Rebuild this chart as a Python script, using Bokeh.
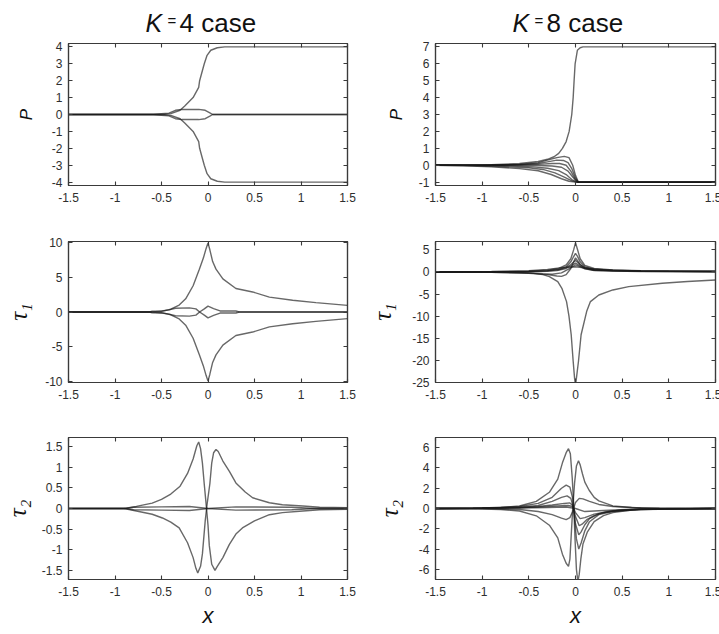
from bokeh.plotting import figure
from bokeh.layouts import gridplot
from bokeh.models import Range1d, FixedTicker, LinearAxis
from bokeh.core.properties import value
from bokeh.embed import file_html
from bokeh.resources import INLINE

# ---------------------------------------------------------------- data
x_ticks = [-1.5, -1, -0.5, 0, 0.5, 1, 1.5]
x_tick_labels = ["-1.5", "-1", "-0.5", "0", "0.5", "1", "1.5"]

# K = 4 : P
k4_P_curves = [
    ([-1.5, -0.49, -0.4, -0.3, -0.25, -0.16, -0.1, -0.09, -0.06, -0.04, -0.01, 0.03, 0.1, 0.18, 1.5],
     [0, 0, 0.05, 0.25, 0.5, 1.0, 1.6, 2.0, 2.6, 3.0, 3.5, 3.8, 3.95, 4.0, 4.0]),
    ([-1.5, -0.49, -0.4, -0.3, -0.25, -0.16, -0.1, -0.09, -0.06, -0.04, -0.01, 0.03, 0.1, 0.18, 1.5],
     [0, 0, -0.05, -0.25, -0.5, -1.0, -1.6, -2.0, -2.6, -3.0, -3.5, -3.8, -3.95, -4.0, -4.0]),
    ([-1.5, -0.62, -0.5, -0.42, -0.35, -0.28, -0.1, -0.03, 0.02, 0.05, 1.5],
     [0, 0, 0.05, 0.08, 0.25, 0.3, 0.3, 0.25, 0.1, 0, 0]),
    ([-1.5, -0.62, -0.5, -0.42, -0.35, -0.28, -0.1, -0.03, 0.02, 0.05, 1.5],
     [0, 0, -0.05, -0.08, -0.25, -0.3, -0.3, -0.25, -0.1, 0, 0]),
]
k4_P_ticks = [-4, -3, -2, -1, 0, 1, 2, 3, 4]

# K = 8 : P
k8_P_curves = [
    ([-1.5, -1.2, -0.9, -0.6, -0.4, -0.3, -0.23, -0.18, -0.14, -0.1, -0.068, -0.04, -0.025, -0.015, -0.004, 0.02, 0.05, 0.08, 1.5],
     [0, 0, 0.03, 0.1, 0.22, 0.35, 0.5, 0.7, 1.0, 1.4, 2.0, 3.0, 4.0, 5.0, 6.0, 6.8, 6.95, 7.0, 7.0]),
    ([-1.5, -1.0, -0.6, -0.4, -0.3, -0.2, -0.12, -0.07, -0.03, 0.0, 0.03, 1.5],
     [0, 0, 0.05, 0.15, 0.3, 0.45, 0.52, 0.45, 0.0, -0.6, -1.0, -1.0]),
    ([-1.5, -1.0, -0.6, -0.4, -0.3, -0.2, -0.13, -0.08, -0.04, 0.0, 0.03, 1.5],
     [0, 0, 0.04, 0.1, 0.2, 0.3, 0.28, 0.15, -0.2, -0.75, -1.0, -1.0]),
    ([-1.5, -1.0, -0.6, -0.4, -0.25, -0.17, -0.1, -0.05, 0.0, 0.03, 1.5],
     [0, 0, 0.02, 0.05, 0.1, 0.1, 0.0, -0.35, -0.85, -1.0, -1.0]),
    ([-1.5, -1.0, -0.6, -0.4, -0.25, -0.15, -0.08, -0.03, 0.02, 1.5],
     [0, 0, 0.0, -0.02, -0.05, -0.12, -0.35, -0.7, -1.0, -1.0]),
    ([-1.5, -1.1, -0.7, -0.45, -0.3, -0.18, -0.1, -0.04, 0.02, 1.5],
     [0, 0, -0.05, -0.1, -0.18, -0.32, -0.55, -0.85, -1.0, -1.0]),
    ([-1.5, -1.2, -0.8, -0.5, -0.35, -0.22, -0.12, -0.05, 0.01, 1.5],
     [0, -0.02, -0.08, -0.15, -0.25, -0.45, -0.7, -0.9, -1.0, -1.0]),
    ([-1.5, -1.2, -0.9, -0.6, -0.4, -0.26, -0.15, -0.07, 0.0, 1.5],
     [0, -0.03, -0.1, -0.2, -0.33, -0.55, -0.8, -0.95, -1.0, -1.0]),
]
k8_P_ticks = [-1, 0, 1, 2, 3, 4, 5, 6, 7]

# K = 4 : tau_1
k4_t1_curves = [
    ([-1.5, -0.6, -0.5, -0.4, -0.31, -0.24, -0.16, -0.093, -0.05, -0.02, 0, 0.02, 0.05, 0.086, 0.16, 0.3, 0.48, 0.66, 0.91, 1.16, 1.5],
     [0, 0, 0.1, 0.4, 1.0, 1.9, 3.8, 6.2, 7.8, 9.2, 10.0, 9.0, 7.3, 6.2, 4.8, 3.4, 2.9, 2.15, 1.7, 1.35, 0.96]),
    ([-1.5, -0.6, -0.5, -0.4, -0.31, -0.24, -0.16, -0.093, -0.05, -0.02, 0, 0.02, 0.05, 0.086, 0.16, 0.3, 0.48, 0.66, 0.91, 1.16, 1.5],
     [0, 0, -0.1, -0.4, -1.0, -1.9, -3.8, -6.2, -7.8, -9.2, -10.0, -9.0, -7.3, -6.2, -4.8, -3.4, -2.9, -2.15, -1.7, -1.35, -0.96]),
    ([-1.5, -0.63, -0.6, -0.5, -0.42, -0.35, -0.2, -0.13, -0.09, -0.04, 0, 0.06, 0.13, 0.3, 0.335, 1.5],
     [0, 0, 0.12, 0.15, 0.3, 0.55, 0.6, 0.45, 0, -0.45, -0.85, -0.5, -0.15, -0.15, 0, 0]),
    ([-1.5, -0.63, -0.6, -0.5, -0.42, -0.35, -0.2, -0.13, -0.09, -0.04, 0, 0.06, 0.13, 0.3, 0.335, 1.5],
     [0, 0, -0.12, -0.15, -0.3, -0.55, -0.6, -0.45, 0, 0.45, 0.85, 0.5, 0.15, 0.15, 0, 0]),
]
k4_t1_ticks = [-10, -5, 0, 5, 10]

# K = 8 : tau_1
k8_t1_curves = [
    ([-1.5, -0.9, -0.6, -0.45, -0.35, -0.28, -0.19, -0.146, -0.096, -0.07, -0.046, -0.025, -0.01, 0.0, 0.01, 0.032, 0.06, 0.12, 0.16, 0.25, 0.4, 0.57, 0.93, 1.2, 1.5],
     [0, 0, -0.1, -0.3, -0.6, -1.05, -2.2, -3.7, -6.7, -10.0, -14.2, -20.2, -24.0, -25.5, -24.0, -20.2, -14.2, -8.9, -6.7, -5.2, -4.06, -3.3, -2.55, -2.15, -1.8]),
    ([-1.5, -0.9, -0.5, -0.3, -0.18, -0.1, -0.05, -0.02, 0, 0.02, 0.05, 0.1, 0.2, 0.4, 0.7, 1.0, 1.5],
     [0, 0.05, 0.2, 0.4, 0.8, 1.6, 3.0, 5.0, 6.6, 5.2, 3.0, 1.5, 0.8, 0.45, 0.3, 0.25, 0.2]),
    ([-1.5, -0.9, -0.5, -0.3, -0.18, -0.1, -0.05, -0.02, 0, 0.02, 0.05, 0.1, 0.2, 0.4, 0.7, 1.0, 1.5],
     [0, 0.03, 0.15, 0.3, 0.6, 1.2, 2.3, 3.5, 4.2, 3.6, 2.3, 1.2, 0.6, 0.35, 0.25, 0.2, 0.15]),
    ([-1.5, -0.9, -0.5, -0.3, -0.2, -0.15, -0.1, -0.05, -0.02, 0, 0.02, 0.05, 0.1, 0.2, 0.4, 0.7, 1.0, 1.5],
     [0, -0.05, -0.3, -0.6, -0.9, -1.0, -0.6, 0.8, 2.3, 3.2, 2.6, 1.7, 0.9, 0.45, 0.3, 0.2, 0.15, 0.1]),
    ([-1.5, -0.9, -0.5, -0.3, -0.18, -0.1, -0.05, 0, 0.05, 0.1, 0.2, 0.4, 0.7, 1.5],
     [0, 0.02, 0.1, 0.25, 0.5, 1.0, 1.7, 2.6, 1.7, 1.0, 0.5, 0.3, 0.2, 0.1]),
    ([-1.5, -0.9, -0.5, -0.3, -0.2, -0.1, -0.05, 0, 0.05, 0.1, 0.2, 0.4, 0.7, 1.5],
     [0, 0.0, 0.05, 0.15, 0.3, 0.8, 1.4, 2.0, 1.4, 0.8, 0.4, 0.25, 0.15, 0.05]),
    ([-1.5, -0.9, -0.5, -0.35, -0.25, -0.15, -0.08, 0, 0.05, 0.1, 0.2, 0.4, 0.7, 1.5],
     [0, -0.05, -0.2, -0.4, -0.5, -0.2, 0.6, 1.6, 1.2, 0.7, 0.35, 0.2, 0.1, 0.05]),
    ([-1.5, -0.9, -0.5, -0.3, -0.15, 0, 0.15, 0.3, 0.6, 1.0, 1.5],
     [0, 0.1, 0.3, 0.6, 1.0, 1.2, 0.8, 0.5, 0.3, 0.2, 0.15]),
]
k8_t1_ticks = [-25, -20, -15, -10, -5, 0, 5]

# K = 4 : tau_2
k4_t2_curves = [
    ([-1.5, -0.9, -0.77, -0.6, -0.5, -0.4, -0.3, -0.22, -0.16, -0.12, -0.1, -0.08, -0.06, -0.04, -0.02, 0, 0.014, 0.04, 0.075, 0.1, 0.16, 0.23, 0.3, 0.37, 0.5, 0.66, 0.8, 1.02, 1.2, 1.5],
     [0, 0, 0.05, 0.13, 0.22, 0.35, 0.54, 0.85, 1.2, 1.52, 1.61, 1.45, 1.1, 0.58, 0.1, -0.4, -0.9, -1.35, -1.5, -1.4, -1.19, -0.87, -0.62, -0.47, -0.3, -0.15, -0.1, -0.06, -0.03, -0.02]),
    ([-1.5, -0.9, -0.77, -0.6, -0.49, -0.4, -0.31, -0.22, -0.16, -0.13, -0.11, -0.08, -0.06, -0.03, -0.01, 0.02, 0.04, 0.06, 0.086, 0.11, 0.16, 0.23, 0.3, 0.4, 0.48, 0.66, 0.8, 1.02, 1.2, 1.5],
     [0, 0, -0.06, -0.14, -0.23, -0.33, -0.47, -0.83, -1.19, -1.45, -1.56, -1.4, -1.1, -0.3, 0.1, 0.6, 1.1, 1.35, 1.43, 1.38, 1.15, 0.9, 0.62, 0.4, 0.26, 0.14, 0.09, 0.06, 0.03, 0.02]),
    ([-1.5, -0.9, -0.8, -0.5, -0.2, 0, 0.3, 0.9, 1.15, 1.5],
     [0, 0, 0.03, 0.04, 0.05, 0.0, -0.04, -0.03, 0, 0]),
    ([-1.5, -0.9, -0.8, -0.5, -0.2, 0, 0.3, 0.9, 1.15, 1.5],
     [0, 0, -0.03, -0.04, -0.05, 0.0, 0.04, 0.03, 0, 0]),
]
k4_t2_ticks = [-1.5, -1, -0.5, 0, 0.5, 1, 1.5]

# K = 8 : tau_2
k8_t2_curves = [
    ([-1.5, -1.1, -0.8, -0.6, -0.42, -0.28, -0.19, -0.14, -0.1, -0.075, -0.055, -0.035, -0.02, -0.005, 0.01, 0.025, 0.04, 0.057, 0.08, 0.128, 0.2, 0.3, 0.4, 0.6, 0.9, 1.5],
     [0, 0.02, 0.1, 0.25, 0.7, 1.6, 2.9, 4.5, 5.5, 5.9, 5.4, 3.0, 0.5, -3.0, -6.0, -7.2, -6.5, -5.0, -3.5, -2.3, -1.3, -0.7, -0.4, -0.15, -0.05, 0]),
    ([-1.5, -1.1, -0.8, -0.6, -0.42, -0.28, -0.19, -0.14, -0.1, -0.075, -0.06, -0.045, -0.03, -0.01, 0.01, 0.032, 0.05, 0.075, 0.1, 0.146, 0.2, 0.25, 0.4, 0.6, 0.9, 1.5],
     [0, -0.02, -0.1, -0.25, -0.72, -1.65, -2.9, -4.5, -5.4, -5.7, -5.0, -2.5, 0.0, 2.5, 4.2, 4.7, 4.3, 3.4, 2.6, 1.8, 1.1, 0.75, 0.25, 0.1, 0.03, 0]),
    ([-1.5, -1.0, -0.6, -0.4, -0.25, -0.15, -0.1, -0.06, -0.03, -0.01, 0.01, 0.035, 0.06, 0.1, 0.15, 0.25, 0.4, 0.7, 1.5],
     [0, 0.05, 0.2, 0.5, 1.1, 2.0, 2.3, 2.1, 1.0, -1.0, -3.0, -4.0, -3.4, -2.2, -1.3, -0.6, -0.3, -0.1, 0]),
    ([-1.5, -1.0, -0.6, -0.4, -0.25, -0.15, -0.09, -0.05, -0.02, 0.0, 0.035, 0.06, 0.1, 0.15, 0.25, 0.4, 0.7, 1.5],
     [0, 0.03, 0.12, 0.3, 0.7, 1.1, 1.25, 1.0, 0.0, -1.5, -2.6, -2.3, -1.6, -1.0, -0.5, -0.25, -0.08, 0]),
    ([-1.5, -1.0, -0.6, -0.4, -0.25, -0.12, -0.06, -0.03, 0.0, 0.04, 0.07, 0.12, 0.2, 0.3, 0.45, 0.7, 1.5],
     [0, 0.02, 0.08, 0.2, 0.35, 0.5, 0.55, 0.3, -0.8, -1.7, -1.55, -1.1, -0.7, -0.4, -0.2, -0.06, 0]),
    ([-1.5, -1.0, -0.6, -0.4, -0.25, -0.15, -0.1, -0.06, -0.03, 0.0, 0.04, 0.08, 0.15, 0.25, 0.4, 0.7, 1.5],
     [0, 0.0, -0.1, -0.3, -0.6, -0.95, -1.1, -0.9, -0.3, 0.6, 1.0, 0.95, 0.7, 0.4, 0.2, 0.05, 0]),
    ([-1.5, -1.1, -0.7, -0.4, -0.2, -0.08, -0.03, 0.0, 0.05, 0.1, 0.2, 0.35, 0.5, 0.8, 1.5],
     [0, 0.02, 0.06, 0.15, 0.25, 0.3, 0.2, -0.4, -1.0, -0.9, -0.55, -0.3, -0.15, -0.04, 0]),
    ([-1.5, -1.1, -0.6, -0.3, -0.1, 0.0, 0.1, 0.3, 0.6, 0.9, 1.5],
     [0, 0.0, 0.05, 0.1, 0.15, 0.0, -0.3, -0.2, -0.08, -0.02, 0]),
]
k8_t2_ticks = [-6, -4, -2, 0, 2, 4, 6]

# column headings
headings = [("K", "=", "4 case"), ("K", "=", "8 case")]

# ---------------------------------------------------------------- styling
LINE = "#1a1a1a"
AXIS = "#3a3a3a"
TXT = "#2e2e2e"
SANS = "Liberation Sans"

# page geometry (px): left border, frame width, right border per column
COLS = [dict(left=66, fw=279, right=15), dict(left=73, fw=280, right=6)]
HEAD_H = 40
ROWS = [dict(top=3, fh=142, bottom=22), dict(top=34, fh=141, bottom=22),
        dict(top=33, fh=142, bottom=55)]


def panel(curves, ylim, yticks, row, col, ylabel, ylabel_font, ylabel_size,
          ylabel_standoff, xlabel=None):
    c, r = COLS[col], ROWS[row]
    p = figure(frame_width=c["fw"], frame_height=r["fh"],
               min_border_left=c["left"], min_border_right=c["right"],
               min_border_top=r["top"], min_border_bottom=r["bottom"],
               x_range=Range1d(-1.5, 1.5), y_range=Range1d(*ylim),
               output_backend="svg", toolbar_location=None, title=None,
               background_fill_color="white", border_fill_color="white")
    p.grid.visible = False
    p.outline_line_color = AXIS
    p.outline_line_width = 1.2

    for xs, ys in curves:
        p.line(xs, ys, line_color=LINE, line_width=1.4, line_alpha=0.66)

    top = LinearAxis(ticker=FixedTicker(ticks=x_ticks))
    right = LinearAxis(ticker=FixedTicker(ticks=yticks))
    p.add_layout(top, "above")
    p.add_layout(right, "right")

    for ax in p.axis:
        ax.axis_line_color = AXIS
        ax.axis_line_width = 1.2
        ax.major_tick_line_color = AXIS
        ax.major_tick_line_width = 1.1
        ax.major_tick_in = 4
        ax.major_tick_out = 0
        ax.minor_tick_line_color = None
        ax.major_label_text_font = SANS
        ax.major_label_text_font_size = "12px"
        ax.major_label_text_color = TXT

    # mirrored tick marks only, no numbers
    for ax in (top, right):
        ax.major_label_text_color = None
        ax.major_label_text_font_size = "1px"
        ax.major_label_standoff = 0

    xa = p.below[0]
    xa.ticker = FixedTicker(ticks=x_ticks)
    xa.major_label_overrides = {t: l for t, l in zip(x_ticks, x_tick_labels)}
    xa.major_label_standoff = 7
    if xlabel:
        xa.axis_label = xlabel
        xa.axis_label_text_font = SANS
        xa.axis_label_text_font_style = "italic"
        xa.axis_label_text_font_size = "22px"
        xa.axis_label_text_color = "#111111"
        xa.axis_label_standoff = 4

    ya = p.left[0]
    ya.ticker = FixedTicker(ticks=yticks)
    ya.major_label_overrides = {t: "%g" % t for t in yticks}
    ya.major_label_standoff = 6
    ya.axis_label = ylabel
    ya.axis_label_text_font = ylabel_font
    ya.axis_label_text_font_style = "italic"
    ya.axis_label_text_font_size = ylabel_size
    ya.axis_label_text_color = "#111111"
    ya.axis_label_standoff = ylabel_standoff
    return p


def header(col, parts, k_left):
    """Heading strip whose frame sits exactly over the panel frames below it;
    x is measured in page pixels, y upward from the strip's bottom edge."""
    c = COLS[col]
    x0 = c["left"] + (0 if col == 0 else 360)
    h = figure(frame_width=c["fw"], frame_height=HEAD_H,
               min_border_left=c["left"], min_border_right=c["right"],
               min_border_top=0, min_border_bottom=0,
               x_range=Range1d(x0, x0 + c["fw"]), y_range=Range1d(0, HEAD_H),
               x_axis_location=None, y_axis_location=None, title=None,
               output_backend="svg", toolbar_location=None,
               outline_line_color=None)
    h.grid.visible = False
    k, eq, rest = parts
    base = HEAD_H - 22.5
    h.text(x=[k_left], y=[base], text=[k], text_font=value(SANS),
           text_font_style="italic", text_font_size="25px",
           text_baseline="alphabetic", text_align="left", text_color="#111111")
    h.text(x=[k_left + 22], y=[HEAD_H - 19.5], text=[eq], text_font=value(SANS),
           text_font_size="15px", text_baseline="middle", text_align="left",
           text_color="#111111")
    h.text(x=[k_left + 34], y=[base], text=[rest], text_font=value(SANS),
           text_font_size="26px", text_baseline="alphabetic", text_align="left",
           text_color="#111111")
    return h


h1 = header(0, headings[0], 143)
h2 = header(1, headings[1], 510)

TAU_FONT = "Liberation Serif"
p1 = panel(k4_P_curves, (-4.2, 4.2), k4_P_ticks, 0, 0, "P", SANS, "17px", 13)
p2 = panel(k8_P_curves, (-1.2, 7.2), k8_P_ticks, 0, 1, "P", SANS, "17px", 10)
p3 = panel(k4_t1_curves, (-10.2, 10.2), k4_t1_ticks, 1, 0, "\u03c4\u2081", TAU_FONT, "25px", 10)
p4 = panel(k8_t1_curves, (-25, 6.9), k8_t1_ticks, 1, 1, "\u03c4\u2081", TAU_FONT, "25px", 13)
p5 = panel(k4_t2_curves, (-1.72, 1.72), k4_t2_ticks, 2, 0, "\u03c4\u2082", TAU_FONT, "25px", 8,
           xlabel="x")
p6 = panel(k8_t2_curves, (-7, 7), k8_t2_ticks, 2, 1, "\u03c4\u2082", TAU_FONT, "25px", 13,
           xlabel="x")

grid = gridplot([[h1, h2], [p1, p2], [p3, p4], [p5, p6]], toolbar_location=None)

open("out.html", "w").write(file_html(grid, INLINE, title="stress components"))
